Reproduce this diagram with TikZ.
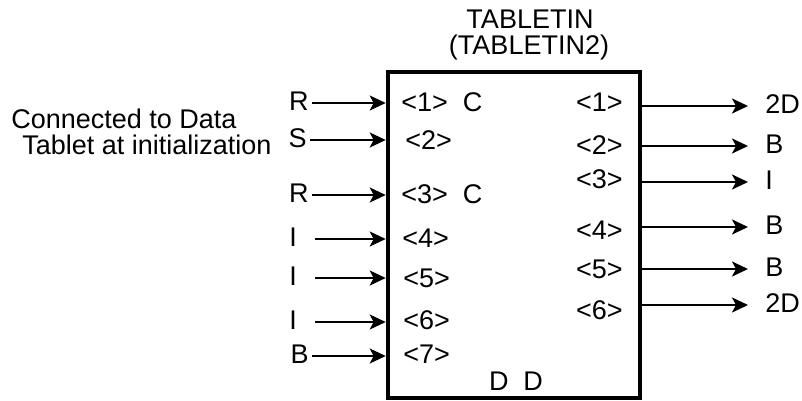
\documentclass[tikz,border=0pt]{standalone}
\usepackage{fontspec}
\setmainfont{Liberation Sans}
\usetikzlibrary{arrows.meta}
\begin{document}
\begin{tikzpicture}[x=0.5pt,y=-0.5pt,
  lbl/.style={inner sep=0pt,font=\fontsize{13.5}{16}\selectfont,text height=0.72em,text depth=0pt},
  arr/.style={line width=1.1pt,-{Stealth[length=8pt,width=7.5pt,inset=2pt]}},
  boxst/.style={draw,line width=2.3pt,minimum width=126pt,minimum height=163pt,inner sep=0pt}]
\useasboundingbox (0,0) rectangle (802,401);
% box
\node[boxst] (box) at (514,235) {};
% title
\node[lbl] (t1) at (530,21) {TABLETIN};
\node[lbl] (t2) at (529,47) {(TABLETIN2)};
% left note
\node[lbl,anchor=west] (n1) at (11,121) {Connected to Data};
\node[lbl,anchor=west] (n2) at (22,147) {Tablet at initialization};
% input labels
\node[lbl,anchor=east] (a1) at (309,103) {R};
\node[lbl,anchor=east] (a2) at (307,140) {S};
\node[lbl,anchor=east] (a3) at (309,195) {R};
\node[lbl] (a4) at (293,239) {I};
\node[lbl] (a5) at (293,278) {I};
\node[lbl] (a6) at (293,322) {I};
\node[lbl,anchor=east] (a7) at (309,356) {B};
\draw[arr] ([xshift=1.5pt]a1.east) -- (a1.east -| box.west);
\draw[arr] ([xshift=1.5pt]a2.east) -- (a2.east -| box.west);
\draw[arr] ([xshift=1.5pt]a3.east) -- (a3.east -| box.west);
\draw[arr] ([xshift=9pt]a4.east) -- (a4.east -| box.west);
\draw[arr] ([xshift=9pt]a5.east) -- (a5.east -| box.west);
\draw[arr] ([xshift=9pt]a6.east) -- (a6.east -| box.west);
\draw[arr] ([xshift=1.5pt]a7.east) -- (a7.east -| box.west);
% inner left labels
\node[lbl,anchor=west] (p1) at (401,104) {<1>\ \ C};
\node[lbl,anchor=west] (p2) at (405,142) {<2>};
\node[lbl,anchor=west] (p3) at (401,196) {<3>\ \ C};
\node[lbl,anchor=west] (p4) at (402,240) {<4>};
\node[lbl,anchor=west] (p5) at (403,280) {<5>};
\node[lbl,anchor=west] (p6) at (403,322) {<6>};
\node[lbl,anchor=west] (p7) at (403,356) {<7>};
\node[lbl] (dd) at (516,383) {D\ \ D};
% inner right labels
\node[lbl,anchor=east] (q1) at (623,104) {<1>};
\node[lbl,anchor=east] (q2) at (623,147) {<2>};
\node[lbl,anchor=east] (q3) at (623,181) {<3>};
\node[lbl,anchor=east] (q4) at (623,232) {<4>};
\node[lbl,anchor=east] (q5) at (623,271) {<5>};
\node[lbl,anchor=east] (q6) at (623,312) {<6>};
% outputs
\node[lbl,anchor=west] (o1) at (765,106) {2D};
\node[lbl,anchor=west] (o2) at (765,146) {B};
\node[lbl,anchor=west] (o3) at (765,182) {I};
\node[lbl,anchor=west] (o4) at (765,227) {B};
\node[lbl,anchor=west] (o5) at (765,269) {B};
\node[lbl,anchor=west] (o6) at (765,305) {2D};
\draw[arr] (o1.west -| box.east) -- ([xshift=-8.5pt]o1.west);
\draw[arr] (o2.west -| box.east) -- ([xshift=-8.5pt]o2.west);
\draw[arr] (o3.west -| box.east) -- ([xshift=-8.5pt]o3.west);
\draw[arr] (o4.west -| box.east) -- ([xshift=-8.5pt]o4.west);
\draw[arr] (o5.west -| box.east) -- ([xshift=-8.5pt]o5.west);
\draw[arr] (o6.west -| box.east) -- ([xshift=-8.5pt]o6.west);
\end{tikzpicture}
\end{document}
